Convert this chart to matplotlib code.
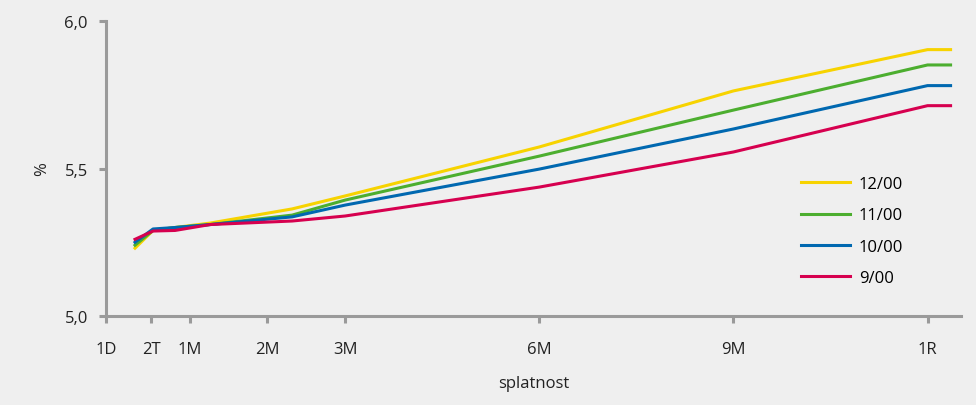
import matplotlib.pyplot as plt

# maturity axis (positions follow the original chart's uneven spacing)
tick_labels = ["1D", "2T", "1M", "2M", "3M", "6M", "9M", "1R"]
tick_pos = [0, 45, 84, 161, 239, 433, 627, 821]

x = [29, 47, 69, 104, 186, 239, 433, 627, 821, 844]
series = ["12/00", "11/00", "10/00", "9/00"]
y_1200 = [5.23, 5.29, 5.30, 5.315, 5.363, 5.407, 5.573, 5.763, 5.903, 5.903]
y_1100 = [5.24, 5.29, 5.30, 5.31, 5.342, 5.393, 5.542, 5.698, 5.851, 5.851]
y_1000 = [5.25, 5.295, 5.30, 5.31, 5.336, 5.376, 5.498, 5.634, 5.781, 5.781]
y_900 = [5.26, 5.288, 5.29, 5.31, 5.322, 5.339, 5.437, 5.556, 5.713, 5.713]
colors = ["#f7d300", "#4cae2f", "#0068b0", "#d6004f"]

bg = "#efefef"
grey = "#9a9a9a"
txt = "#222222"
plt.rcParams["font.family"] = ["Open Sans", "DejaVu Sans"]

fig = plt.figure(figsize=(9.76, 4.06), dpi=100, facecolor=bg)
ax = fig.add_axes([0.1086, 0.2192, 0.8756, 0.7266], facecolor=bg)

for ys, c, lab in zip([y_1200, y_1100, y_1000, y_900], colors, series):
    ax.plot(x, ys, color=c, lw=2.2, label=lab, solid_joinstyle="round")

ax.set_xlim(0, 854)
ax.set_ylim(5.0, 6.0)
ax.set_xticks(tick_pos)
ax.set_xticklabels(tick_labels)
ax.set_yticks([5.0, 5.5, 6.0])
ax.set_yticklabels(["5,0", "5,5", "6,0"])

for s in ["top", "right"]:
    ax.spines[s].set_visible(False)
for s in ["left", "bottom"]:
    ax.spines[s].set_color(grey)
    ax.spines[s].set_linewidth(2.2)
ax.tick_params(axis="both", colors=grey, width=2.2, length=5, labelcolor=txt, labelsize=12)
ax.tick_params(axis="x", pad=13)
ax.tick_params(axis="y", pad=8)

ax.set_xlabel("splatnost", fontsize=12, color=txt, labelpad=13)
ax.set_ylabel("%", fontsize=12, color=txt, labelpad=10)

ax.legend(loc="upper left", bbox_to_anchor=(0.796, 0.525), frameon=False, fontsize=12,
          handlelength=2.9, labelspacing=0.92, handletextpad=0.55)

fig.savefig("out.png", dpi=100, facecolor=bg)
